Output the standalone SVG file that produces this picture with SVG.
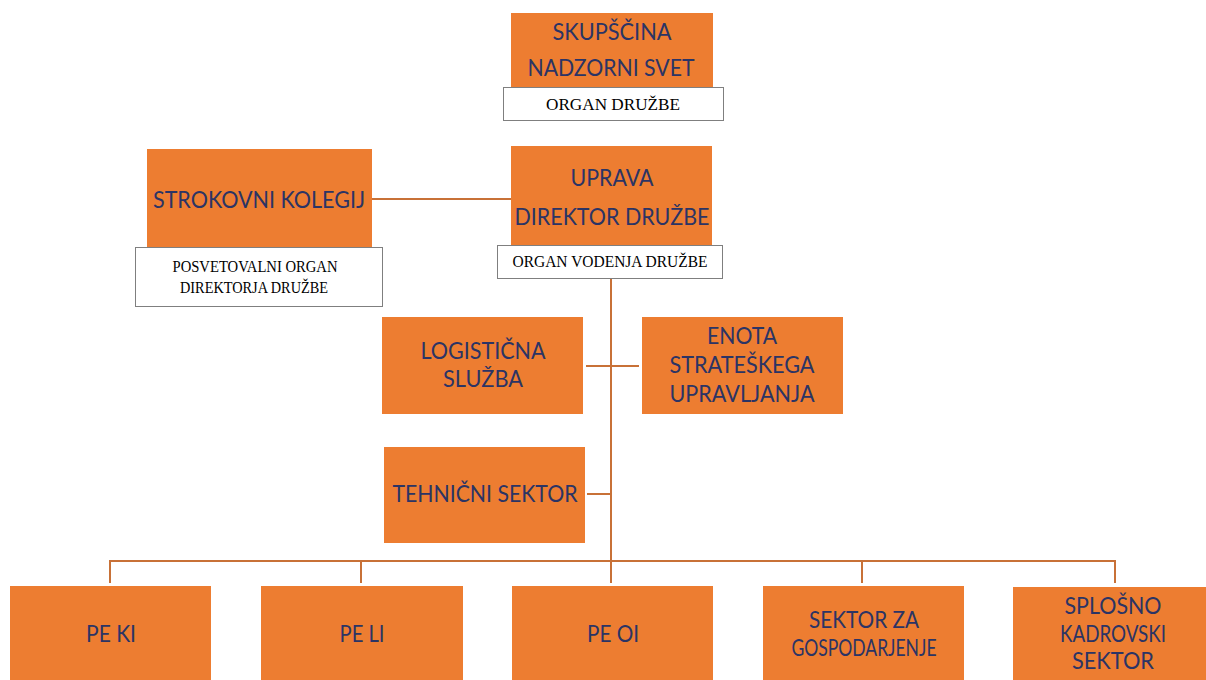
<svg xmlns="http://www.w3.org/2000/svg" width="1206" height="680" viewBox="0 0 1206 680">
<style>
.box{fill:#ED7D31}
.wbox{fill:#FFFFFF;stroke:#7F7F7F;stroke-width:1}
.t{font-family:Lato,"Open Sans",sans-serif;font-size:22.5px;fill:#2B3465;text-anchor:middle}
.tb{font-family:Lato,"Open Sans",sans-serif;font-size:24px;fill:#2B3465;text-anchor:middle}
.s{font-family:"Liberation Serif",serif;font-size:16px;fill:#000000;text-anchor:middle}
.ln{stroke:#C87137;stroke-width:2;fill:none}
</style>
<rect width="1206" height="680" fill="#FFFFFF"/>
<g id="connectors">
<line class="ln" x1="372" y1="199" x2="511" y2="199"/>
<line class="ln" x1="611" y1="279" x2="611" y2="561"/>
<line class="ln" x1="586" y1="366" x2="639" y2="366"/>
<line class="ln" x1="587" y1="494" x2="611" y2="494"/>
<polyline class="ln" points="110,583 110,561 1115,561 1115,583"/>
<line class="ln" x1="361" y1="561" x2="361" y2="583"/>
<line class="ln" x1="611" y1="561" x2="611" y2="583"/>
<line class="ln" x1="862" y1="561" x2="862" y2="583"/>
</g>
<g id="skupscina">
<rect class="box" x="511" y="13" width="202" height="75"/>
<rect class="wbox" x="503.5" y="87.5" width="220" height="33"/>
<text class="t" x="612" y="40" textLength="119" lengthAdjust="spacingAndGlyphs">SKUPŠČINA</text>
<text class="t" x="611" y="76" textLength="167" lengthAdjust="spacingAndGlyphs">NADZORNI SVET</text>
<text class="s" x="613" y="110" textLength="134" lengthAdjust="spacingAndGlyphs">ORGAN DRUŽBE</text>
</g>
<g id="strokovni">
<rect class="box" x="147" y="149" width="225" height="98"/>
<rect class="wbox" x="135.5" y="247.5" width="247" height="59"/>
<text class="t" x="259" y="208" textLength="212" lengthAdjust="spacingAndGlyphs">STROKOVNI KOLEGIJ</text>
<text class="s" x="255" y="272" textLength="165" lengthAdjust="spacingAndGlyphs">POSVETOVALNI ORGAN</text>
<text class="s" x="254" y="293" textLength="148" lengthAdjust="spacingAndGlyphs">DIREKTORJA DRUŽBE</text>
</g>
<g id="uprava">
<rect class="box" x="511" y="146" width="201" height="99"/>
<rect class="wbox" x="497.5" y="245.5" width="225" height="33"/>
<text class="t" x="612" y="186" textLength="83" lengthAdjust="spacingAndGlyphs">UPRAVA</text>
<text class="t" x="612" y="225" textLength="195" lengthAdjust="spacingAndGlyphs">DIREKTOR DRUŽBE</text>
<text class="s" x="610" y="267" textLength="195" lengthAdjust="spacingAndGlyphs">ORGAN VODENJA DRUŽBE</text>
</g>
<g id="logisticna">
<rect class="box" x="382" y="317" width="201" height="97"/>
<text class="t" x="483" y="359" textLength="125" lengthAdjust="spacingAndGlyphs">LOGISTIČNA</text>
<text class="t" x="483" y="387" textLength="80" lengthAdjust="spacingAndGlyphs">SLUŽBA</text>
</g>
<g id="enota">
<rect class="box" x="642" y="317" width="201" height="97"/>
<text class="t" x="742" y="344" textLength="70" lengthAdjust="spacingAndGlyphs">ENOTA</text>
<text class="t" x="742" y="373" textLength="145" lengthAdjust="spacingAndGlyphs">STRATEŠKEGA</text>
<text class="t" x="742" y="402" textLength="145" lengthAdjust="spacingAndGlyphs">UPRAVLJANJA</text>
</g>
<g id="tehnicni">
<rect class="box" x="384" y="447" width="201" height="96"/>
<text class="t" x="485" y="502" textLength="185" lengthAdjust="spacingAndGlyphs">TEHNIČNI SEKTOR</text>
</g>
<g id="peki">
<rect class="box" x="10" y="586" width="201" height="94"/>
<text class="tb" x="111" y="642" textLength="50" lengthAdjust="spacingAndGlyphs">PE KI</text>
</g>
<g id="peli">
<rect class="box" x="261" y="586" width="202" height="94"/>
<text class="tb" x="362" y="642" textLength="45" lengthAdjust="spacingAndGlyphs">PE LI</text>
</g>
<g id="peoi">
<rect class="box" x="512" y="586" width="201" height="94"/>
<text class="tb" x="613" y="642" textLength="52" lengthAdjust="spacingAndGlyphs">PE OI</text>
</g>
<g id="sektor-gospodarjenje">
<rect class="box" x="763" y="586" width="201" height="94"/>
<text class="tb" x="864" y="628" textLength="110" lengthAdjust="spacingAndGlyphs">SEKTOR ZA</text>
<text class="tb" x="864" y="656" textLength="145" lengthAdjust="spacingAndGlyphs">GOSPODARJENJE</text>
</g>
<g id="splosno">
<rect class="box" x="1013" y="587" width="201" height="93"/>
<text class="tb" x="1113" y="614" textLength="97" lengthAdjust="spacingAndGlyphs">SPLOŠNO</text>
<text class="tb" x="1113" y="642" textLength="106" lengthAdjust="spacingAndGlyphs">KADROVSKI</text>
<text class="tb" x="1113" y="669" textLength="82" lengthAdjust="spacingAndGlyphs">SEKTOR</text>
</g>
</svg>
